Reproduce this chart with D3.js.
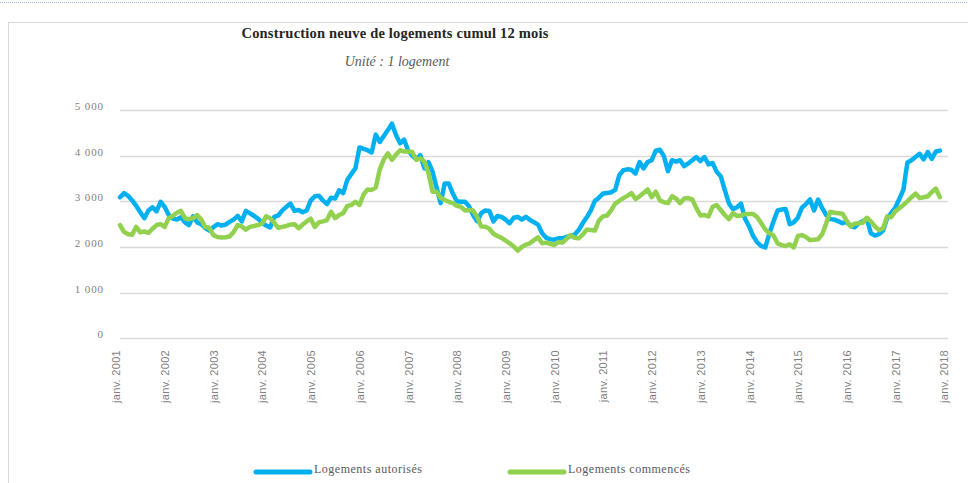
<!DOCTYPE html>
<html><head><meta charset="utf-8">
<script src="https://cdn.jsdelivr.net/npm/d3@7"></script>
<style>
html,body{margin:0;padding:0;background:#fff;}
svg{display:block;}
</style></head>
<body>
<svg id="c" width="968" height="483"></svg>
<script>
// Monthly values, Jan 2001 .. Nov 2017
const autorises = [
3088,3180,3120,3020,2900,2760,2630,2800,2870,2780,2990,2880,
2700,2620,2600,2650,2540,2480,2670,2540,2500,2420,2360,2430,
2500,2470,2490,2550,2600,2680,2560,2790,2740,2680,2620,2530,
2470,2430,2660,2690,2800,2880,2950,2790,2810,2760,2800,3020,
3110,3120,3020,2940,3080,3060,3240,3180,3470,3600,3720,4180,
4150,4120,4070,4460,4300,4430,4560,4700,4450,4270,4350,4110,
4000,3920,4010,3720,3860,3650,3300,2960,3390,3390,3170,3000,
2990,2990,2890,2700,2560,2740,2800,2790,2560,2680,2660,2600,
2520,2640,2660,2600,2660,2590,2540,2490,2300,2200,2170,2160,
2190,2190,2220,2240,2270,2370,2520,2650,2800,3010,3080,3170,
3180,3200,3250,3570,3680,3700,3690,3610,3860,3720,3860,3900,
4110,4130,3990,3660,3900,3870,3900,3770,3830,3900,3970,3880,
3970,3810,3840,3650,3550,3250,2960,2830,2870,2950,2620,2450,
2240,2100,2020,1990,2300,2560,2800,2820,2830,2500,2540,2640,
2860,2940,3040,2800,3040,2850,2700,2610,2600,2560,2520,2550,
2460,2430,2520,2560,2620,2300,2250,2280,2360,2630,2740,2860,
3050,3250,3850,3900,3970,4040,3920,4080,3930,4090,4110
];
const commences = [
2480,2330,2280,2270,2440,2320,2340,2310,2400,2480,2500,2440,
2630,2680,2750,2790,2630,2610,2630,2700,2600,2440,2420,2260,
2220,2210,2215,2230,2330,2480,2450,2380,2440,2460,2480,2510,
2670,2630,2530,2420,2440,2460,2490,2500,2410,2490,2560,2620,
2440,2540,2560,2590,2770,2630,2700,2740,2900,2920,2990,2920,
3150,3260,3250,3300,3700,3920,4050,3910,4020,4120,4090,4090,
4080,3910,3940,3870,3620,3210,3210,3080,3030,2990,2960,2900,
2880,2800,2810,2800,2660,2450,2445,2400,2290,2240,2200,2140,
2080,2010,1920,2000,2050,2080,2150,2210,2080,2095,2070,2044,
2110,2095,2180,2260,2200,2190,2270,2380,2370,2360,2580,2670,
2690,2800,2950,3010,3070,3120,3180,3050,3110,3180,3260,3090,
3210,3020,2980,2960,3110,3060,2960,3060,3070,3040,2850,2690,
2700,2670,2880,2920,2810,2700,2610,2740,2680,2690,2720,2720,
2720,2650,2520,2380,2300,2250,2080,2040,2020,2060,1990,2240,
2260,2220,2150,2160,2170,2280,2520,2770,2750,2740,2730,2580,
2450,2510,2520,2530,2640,2560,2450,2370,2410,2670,2650,2780,
2850,2920,3000,3090,3170,3070,3090,3110,3200,3280,3090
];
const tickLabels = ["janv. 2001","janv. 2002","janv. 2003","janv. 2004","janv. 2005","janv. 2006",
"janv. 2007","janv. 2008","janv. 2009","janv. 2010","janv. 2011","janv. 2012","janv. 2013",
"janv. 2014","janv. 2015","janv. 2016","janv. 2017","janv. 2018"];
const yTicks = [0,1000,2000,3000,4000,5000];
const seriesNames = ["Logements autorisés","Logements commencés"];
const colors = ["#00B0F0","#92D050"];

const svg = d3.select("#c");
// frame
svg.append("line").attr("x1",0).attr("x2",968).attr("y1",2.5).attr("y2",2.5)
  .attr("stroke","#9fb6e0").attr("stroke-dasharray","1,1");
svg.append("rect").attr("x",8.5).attr("y",22.5).attr("width",975).attr("height",480)
  .attr("fill","#fff").attr("stroke","#d9d9d9");

const x = d3.scaleLinear().domain([0,204]).range([120,948]);
const y = d3.scaleLinear().domain([0,5000]).range([338.3,110]);

const loc = d3.formatLocale({decimal:",",thousands:" ",grouping:[3],currency:["","€"]});
const fmt = loc.format(",");

// gridlines
svg.append("g").selectAll("line").data(yTicks).join("line")
  .attr("x1",120).attr("x2",948)
  .attr("y1",d=>Math.round(y(d))+0.5).attr("y2",d=>Math.round(y(d))+0.5)
  .attr("stroke","#d9d9d9").attr("stroke-width",1.5);

// y axis labels
const yAxis = d3.axisLeft(y).tickValues(yTicks).tickFormat(fmt).tickSize(0).tickPadding(0);
const gy = svg.append("g").attr("transform","translate(104,0)").call(yAxis);
gy.select(".domain").remove();
gy.selectAll("text").attr("font-family","'Liberation Serif',serif").attr("font-size",11)
  .attr("letter-spacing","0.9px").attr("fill","#7f7f7f").attr("dy","-0.04em");

// x axis labels
const xt = d3.range(tickLabels.length).map(i=>i*12);
const xAxis = d3.axisBottom(x).tickValues(xt).tickFormat((d,i)=>tickLabels[i]).tickSize(0);
const gx = svg.append("g").attr("transform","translate(0,350)").call(xAxis);
gx.select(".domain").remove();
gx.selectAll("text")
  .attr("font-family","'Liberation Sans',Arial,sans-serif").attr("font-size",11)
  .attr("letter-spacing","0.3px").attr("fill","#7f7f7f")
  .attr("text-anchor","end").attr("transform","rotate(-90) translate(0,-4)")
  .attr("x",0).attr("y",0).attr("dy","0.35em");

// lines
const line = d3.line().x((d,i)=>x(i)).y(d=>y(d)).curve(d3.curveLinear);
[autorises,commences].forEach((s,k)=>{
  svg.append("path").datum(s).attr("d",line).attr("fill","none")
    .attr("stroke",colors[k]).attr("stroke-width",4.5)
    .attr("stroke-linejoin","round").attr("stroke-linecap","round");
});

// titles
svg.append("text").attr("x",395).attr("y",38).attr("text-anchor","middle")
  .attr("font-family","'Liberation Serif',serif").attr("font-weight","bold").attr("font-size",14.5)
  .attr("letter-spacing","0.2px")
  .attr("fill","#262626").text("Construction neuve de logements cumul 12 mois");
svg.append("text").attr("x",397).attr("y",66).attr("text-anchor","middle")
  .attr("font-family","'Liberation Serif',serif").attr("font-style","italic").attr("font-size",14)
  .attr("fill","#595959").text("Unité : 1 logement");

// legend
const legX = [256,510];
seriesNames.forEach((n,k)=>{
  const g = svg.append("g");
  g.append("line").attr("x1",legX[k]).attr("x2",legX[k]+54).attr("y1",472).attr("y2",472)
    .attr("stroke",colors[k]).attr("stroke-width",5).attr("stroke-linecap","round");
  g.append("text").attr("x",legX[k]+58).attr("y",472).attr("dy","0.1em")
    .attr("font-family","'Liberation Serif',serif").attr("font-size",12)
    .attr("letter-spacing","0.5px").attr("fill","#595959").text(n);
});
</script>
</body></html>
